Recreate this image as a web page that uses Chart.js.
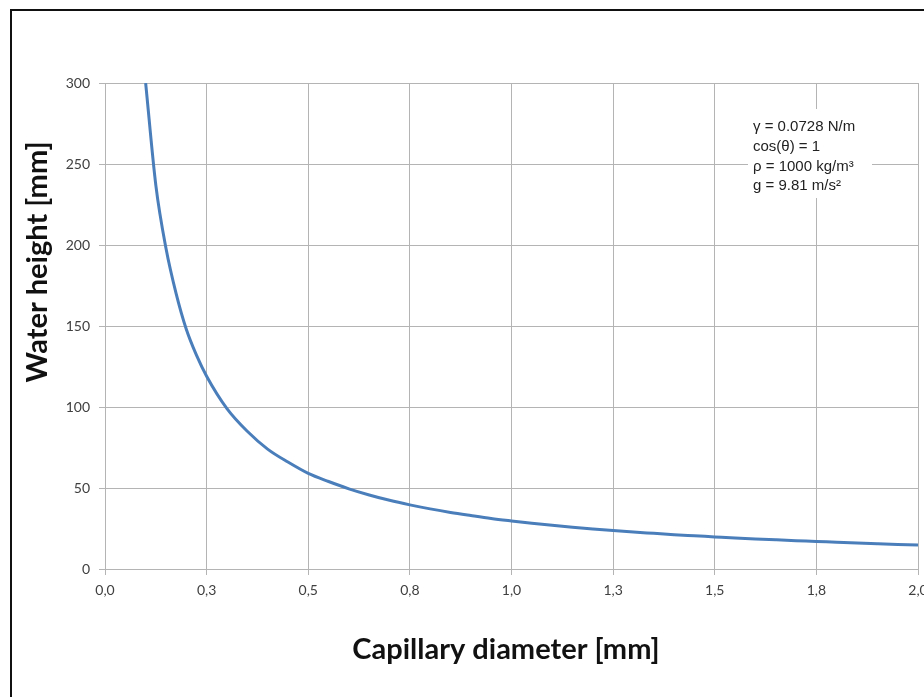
<!DOCTYPE html>
<html>
<head>
<meta charset="utf-8">
<script src="https://cdn.jsdelivr.net/npm/chart.js@4/dist/chart.umd.min.js"></script>
<style>
  html, body { margin: 0; padding: 0; background: #fff; overflow: hidden; }
  #wrap { position: relative; width: 924px; height: 697px; }
  #frame {
    position: absolute; left: 10px; top: 9px; width: 1000px; height: 800px;
    border-left: 2px solid #111; border-top: 2px solid #111; pointer-events: none;
  }
</style>
</head>
<body>
<div id="wrap">
  <canvas id="lineChart"></canvas>
  <div id="frame"></div>
</div>
<script>
// capillary diameter [mm]
var diameters = [0.10, 0.125, 0.15, 0.175, 0.20, 0.225, 0.25, 0.30, 0.35, 0.40, 0.45, 0.50, 0.55,
                 0.60, 0.65, 0.70, 0.75, 0.80, 0.85, 0.90, 0.95, 1.00, 1.05,
                 1.10, 1.15, 1.20, 1.25, 1.30, 1.35, 1.40, 1.45, 1.50, 1.55,
                 1.60, 1.65, 1.70, 1.75, 1.80, 1.85, 1.90, 1.95, 2.00];
// water height [mm]
var heights = [300, 237, 198, 170, 148, 132, 119, 99, 85, 74, 66, 59, 54,
               49.5, 45.7, 42.4, 39.6, 37.1, 34.9, 33, 31.2, 29.7, 28.3,
               27, 25.8, 24.7, 23.7, 22.8, 22, 21.2, 20.5, 19.8, 19.1,
               18.5, 18, 17.5, 17, 16.5, 16, 15.6, 15.2, 14.8];
var yTicks = [0, 50, 100, 150, 200, 250, 300];
var notes = ["\u03B3 = 0.0728 N/m", "cos(\u03B8) = 1", "\u03C1 = 1000 kg/m\u00B3", "g = 9.81 m/s\u00B2"];
var xTitle = "Capillary diameter [mm]";
var yTitle = "Water height [mm]";

var points = diameters.map(function (d, i) {
    return { x: d, y: heights[i] };
});

// titles + the little parameter box
var extras = {
    id: 'extras',
    afterDraw: function (chart) {
        var ctx = chart.ctx;
        ctx.save();
        // parameter box
        ctx.fillStyle = '#fff';
        ctx.fillRect(748, 109, 124, 89);
        ctx.fillStyle = '#222';
        ctx.font = '15px "Liberation Sans", Arial, sans-serif';
        ctx.textAlign = 'left';
        ctx.textBaseline = 'middle';
        var ys = [127, 147, 167, 186];
        notes.forEach(function (t, i) {
            ctx.fillText(t, 753, ys[i]);
        });
        // axis titles
        ctx.fillStyle = '#111';
        ctx.font = 'bold 29px Lato, "Open Sans", sans-serif';
        ctx.textAlign = 'center';
        ctx.fillText(xTitle, 506, 650);
        ctx.translate(38, 262);
        ctx.rotate(-Math.PI / 2);
        ctx.fillText(yTitle, 0, 0);
        ctx.restore();
    }
};

var gridColor = '#b4b4b4';
var myLineChart = new Chart('lineChart', {
    type: 'line',
    data: {
        datasets: [{
            label: "Water height",
            data: points,
            borderColor: '#4a7ebb',
            borderWidth: 3,
            pointRadius: 0,
            cubicInterpolationMode: 'monotone',
            fill: false
        }]
    },
    options: {
        responsive: true,
        maintainAspectRatio: false,
        animation: false,
        layout: { padding: { top: 83, right: 6, bottom: 0, left: 0 } },
        plugins: {
            legend: { display: false },
            tooltip: { enabled: false }
        },
        scales: {
            x: {
                type: 'linear',
                min: 0,
                max: 2,
                grid: { color: gridColor, tickLength: 6 },
                border: { color: gridColor },
                ticks: {
                    stepSize: 0.25,
                    padding: 7,
                    color: '#404040',
                    font: { family: 'Lato, "Open Sans", sans-serif', size: 14 },
                    maxRotation: 0,
                    autoSkip: false,
                    callback: function (v) { return v.toFixed(1).replace('.', ','); }
                },
                afterFit: function (s) { s.height = 128; s.paddingLeft = 0; s.paddingRight = 0; }
            },
            y: {
                min: 0,
                max: 300,
                grid: { color: gridColor, tickLength: 6 },
                border: { color: gridColor },
                afterBuildTicks: function (s) {
                    s.ticks = yTicks.map(function (v) { return { value: v }; });
                },
                ticks: {
                    padding: 9,
                    color: '#404040',
                    font: { family: 'Lato, "Open Sans", sans-serif', size: 14 }
                },
                afterFit: function (s) { s.width = 105; s.paddingTop = 0; s.paddingBottom = 0; }
            }
        }
    },
    plugins: [extras]
});
</script>
</body>
</html>
